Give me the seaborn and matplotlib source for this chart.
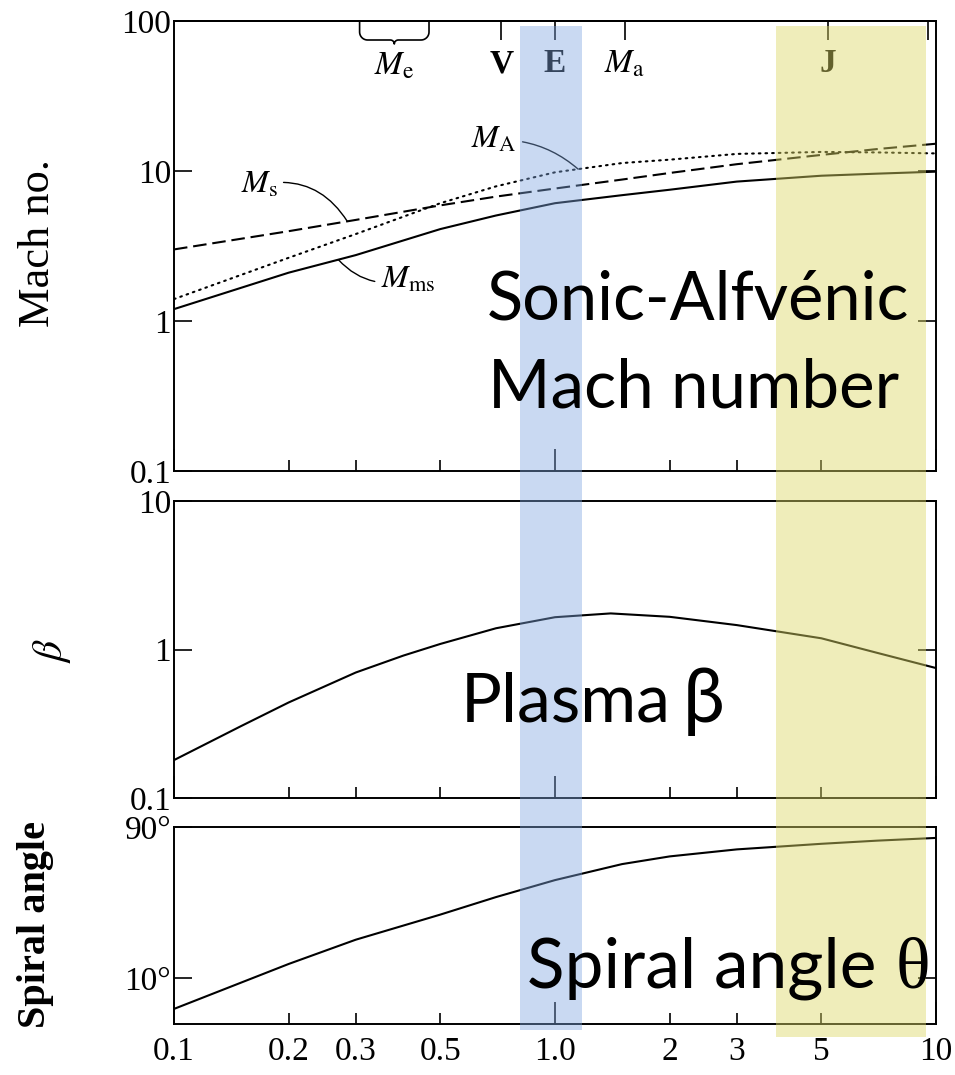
import numpy as np
import pandas as pd
import matplotlib
matplotlib.use("Agg")
import matplotlib.pyplot as plt
import matplotlib.transforms as mtransforms
from matplotlib.patches import Rectangle
from matplotlib.ticker import FixedLocator, FixedFormatter, NullFormatter, NullLocator
import seaborn as sns

# ---------------------------------------------------------------- data
# heliocentric distance (AU)
distance_au = [0.1, 0.2, 0.3, 0.5, 0.7, 1.0, 1.5, 2.0, 3.0, 5.0, 7.0, 10.0]
mach_ms = [1.2, 2.1, 2.75, 4.1, 5.05, 6.1, 6.9, 7.5, 8.5, 9.3, 9.6, 9.9]
mach_s = [3.0, 3.97, 4.72, 5.9, 6.75, 7.64, 8.77, 9.7, 11.1, 12.8, 14.0, 15.2]
mach_A = [1.4, 2.64, 3.8, 6.1, 7.9, 9.8, 11.3, 11.9, 13.0, 13.4, 13.3, 13.1]

beta_distance_au = [0.1, 0.15, 0.2, 0.3, 0.4, 0.5, 0.7, 1.0, 1.4, 2.0, 3.0, 5.0, 7.0, 10.0]
plasma_beta = [0.18, 0.305, 0.44, 0.70, 0.91, 1.09, 1.39, 1.65, 1.75, 1.66, 1.46, 1.19, 0.95, 0.75]

spiral_angle_deg = [6.4, 12.3, 17.5, 25.2, 32.5, 41.6, 52.5, 58.7, 65.0, 70.5, 73.8, 76.8]

# planetary orbits marked along the top of the Mach-number panel
planet_au = [0.723, 1.0, 1.524, 5.2, 9.54]
planet_labels = ["V", "E", r"$M_\mathrm{a}$", "J", ""]
mercury_au = (0.307, 0.467)

# shaded distance ranges
earth_band_au = (0.81, 1.18)
jupiter_band_au = (3.8, 9.4)

x_major = [0.1, 1.0, 10.0]
x_major_labels = ["0.1", "1.0", "10"]
x_minor = [0.2, 0.3, 0.5, 2.0, 3.0, 5.0]
x_minor_labels = ["0.2", "0.3", "0.5", "2", "3", "5"]

mach_ticks = [0.1, 1, 10, 100]
mach_tick_labels = ["0.1", "1", "10", "100"]
beta_ticks = [0.1, 1, 10]
beta_tick_labels = ["0.1", "1", "10"]
angle_ticks = [10, 90]
angle_tick_labels = ["10°", "90°"]

# ---------------------------------------------------------------- style
sns.set_theme(style="white")
SERIF = ["Liberation Serif", "DejaVu Serif"]
plt.rcParams.update({
    "font.family": SERIF,
    "mathtext.fontset": "stix",
    "axes.linewidth": 1.4,
    "axes.edgecolor": "black",
    "xtick.direction": "in",
    "ytick.direction": "in",
    "xtick.color": "black",
    "ytick.color": "black",
    "text.color": "black",
    "axes.labelcolor": "black",
})

W, H = 955, 1075
fig = plt.figure(figsize=(W / 100, H / 100), dpi=100)


def frame(left, top, right, bottom):
    return [left / W, 1 - bottom / H, (right - left) / W, (bottom - top) / H]


def fx(px):
    return px / W


def fy(py):
    return 1 - py / H


ax_m = fig.add_axes(frame(174, 21, 936, 471))
ax_b = fig.add_axes(frame(174, 501, 936, 798))
ax_s = fig.add_axes(frame(174, 827, 936, 1024))

line_kw = dict(color="black", linewidth=1.5)

mach_df = pd.DataFrame({"r": distance_au, "M_ms": mach_ms, "M_s": mach_s, "M_A": mach_A})
sns.lineplot(data=mach_df, x="r", y="M_ms", ax=ax_m, **line_kw)
sns.lineplot(data=mach_df, x="r", y="M_s", ax=ax_m, linestyle=(0, (6.5, 2.8)), **line_kw)
sns.lineplot(data=mach_df, x="r", y="M_A", ax=ax_m, linestyle=(0, (0.8, 2.4)),
             dash_capstyle="round", **line_kw)

beta_df = pd.DataFrame({"r": beta_distance_au, "beta": plasma_beta})
sns.lineplot(data=beta_df, x="r", y="beta", ax=ax_b, **line_kw)

angle_df = pd.DataFrame({"r": distance_au, "angle": spiral_angle_deg})
sns.lineplot(data=angle_df, x="r", y="angle", ax=ax_s, **line_kw)

panels = [
    (ax_m, (0.1, 100), mach_ticks, mach_tick_labels),
    (ax_b, (0.1, 10), beta_ticks, beta_tick_labels),
    (ax_s, (5.14, 90), angle_ticks, angle_tick_labels),
]
for ax, ylim, yt, ytl in panels:
    ax.set_xscale("log")
    ax.set_yscale("log")
    ax.set_xlim(0.1, 10)
    ax.set_ylim(*ylim)
    ax.set_xlabel("")
    ax.set_ylabel("")
    ax.xaxis.set_major_locator(FixedLocator(x_major))
    ax.xaxis.set_minor_locator(FixedLocator(x_minor))
    ax.xaxis.set_major_formatter(NullFormatter())
    ax.xaxis.set_minor_formatter(NullFormatter())
    ax.yaxis.set_major_locator(FixedLocator(yt))
    ax.yaxis.set_major_formatter(FixedFormatter(ytl))
    ax.yaxis.set_minor_locator(NullLocator())
    ax.tick_params(axis="x", which="major", length=16, width=1.2, bottom=True, top=False)
    ax.tick_params(axis="x", which="minor", length=8, width=1.2, bottom=True, top=False)
    ax.tick_params(axis="y", which="major", length=13, width=1.2, left=True, right=True,
                   pad=2, labelsize=24)
    for sp in ax.spines.values():
        sp.set_visible(True)
        sp.set_linewidth(1.4)
        sp.set_color("black")
    ax.set_facecolor("white")

ax_s.xaxis.set_major_formatter(FixedFormatter(x_major_labels))
ax_s.xaxis.set_minor_formatter(FixedFormatter(x_minor_labels))
ax_s.tick_params(axis="x", which="both", labelsize=24, pad=9)

# axis titles
ax_m.set_ylabel("Mach no.", fontsize=32, va="center")
ax_m.yaxis.set_label_coords((38 - 174) / 762, 1 - (243 - 21) / 450)
ax_b.set_ylabel(r"$\beta$", fontsize=30, va="center", rotation=90)
ax_b.yaxis.set_label_coords((52 - 174) / 762, 1 - (650 - 501) / 297)
ax_s.set_ylabel("Spiral angle", fontsize=29, fontweight="bold", va="center")
ax_s.yaxis.set_label_coords((36 - 174) / 762, 1 - (925 - 827) / 197)

# planet positions: inward ticks on the top edge with labels underneath
top = ax_m.secondary_xaxis("top")
top.set_xticks(planet_au)
top.set_xticklabels([])
top.xaxis.set_minor_locator(NullLocator())
top.tick_params(axis="x", which="major", direction="in", length=14, width=1.2)
top.spines["top"].set_linewidth(1.4)

blend_m = mtransforms.blended_transform_factory(ax_m.transData, ax_m.transAxes)
for r, lab in zip(planet_au, planet_labels):
    if not lab:
        continue
    weight = "normal" if lab.startswith("$") else "bold"
    ax_m.text(r, 1 - (64 - 21) / 450, lab, transform=blend_m, ha="center", va="center",
              fontsize=24, fontweight=weight)

# Mercury: curly brace spanning perihelion to aphelion
lo, hi = np.log10(mercury_au[0]), np.log10(mercury_au[1])
span_px = (hi - lo) * 381.0
mid_px = span_px / 2
t = np.linspace(0, np.pi / 2, 12)
half_x = np.concatenate([[0, 0], 8 - 8 * np.cos(t), [mid_px - 4], mid_px - 4 + 4 * np.sin(t)])
half_y = np.concatenate([[0, 11], 11 + 8 * np.sin(t), [19], 19 + 4 * (1 - np.cos(t))])
brace_x = np.concatenate([half_x, (span_px - half_x)[::-1]])
brace_y = np.concatenate([half_y, half_y[::-1]])
ax_m.plot(10 ** (lo + brace_x / 381.0), 1 - brace_y / 450, transform=blend_m,
          color="black", lw=1.2, clip_on=False, solid_capstyle="butt")
ax_m.text(10 ** ((lo + hi) / 2), 1 - (66 - 21) / 450, r"$M_\mathrm{e}$", transform=blend_m,
          ha="center", va="center", fontsize=24)


def on_curve(r, xs, ys):
    return 10 ** np.interp(np.log10(r), np.log10(xs), np.log10(ys))


leader = dict(arrowstyle="-", lw=1.0, color="black", shrinkA=2, shrinkB=0)
r_s = 0.285
ax_m.annotate(r"$M_\mathrm{s}$", xy=(r_s, on_curve(r_s, distance_au, mach_s)),
              xytext=((259 - 174) / 762, 1 - (185 - 21) / 450), textcoords="axes fraction",
              ha="center", va="center", fontsize=23,
              arrowprops=dict(connectionstyle="arc3,rad=-0.35", **leader))
r_ms = 0.27
ax_m.annotate(r"$M_\mathrm{ms}$", xy=(r_ms, on_curve(r_ms, distance_au, mach_ms)),
              xytext=((408 - 174) / 762, 1 - (280 - 21) / 450), textcoords="axes fraction",
              ha="center", va="center", fontsize=23,
              arrowprops=dict(connectionstyle="arc3,rad=-0.3", **leader))
r_A = 1.15
ax_m.annotate(r"$M_\mathrm{A}$", xy=(r_A, on_curve(r_A, distance_au, mach_A)),
              xytext=((494 - 174) / 762, 1 - (140 - 21) / 450), textcoords="axes fraction",
              ha="center", va="center", fontsize=23,
              arrowprops=dict(connectionstyle="arc3,rad=-0.2", **leader))

# translucent distance bands running through all three panels
band_tr = mtransforms.blended_transform_factory(ax_s.transData, fig.transFigure)
for (x0, x1), color, alpha, bottom_px in [
    (earth_band_au, "#7FA6E0", 0.42, 1030),
    (jupiter_band_au, "#DDD866", 0.45, 1037),
]:
    rect = Rectangle((x0, fy(bottom_px)), x1 - x0, fy(26) - fy(bottom_px),
                     transform=band_tr, facecolor=color, alpha=alpha,
                     edgecolor="none", zorder=2)
    fig.add_artist(rect)

# panel captions
cap_font = ["Lato", "Open Sans", "DejaVu Sans"]
fig.text(fx(487), fy(320), "Sonic-Alfvénic", family=cap_font, fontsize=48,
         ha="left", va="baseline", zorder=5)
fig.text(fx(488), fy(408), "Mach number", family=cap_font, fontsize=48.5,
         ha="left", va="baseline", zorder=5)
fig.text(fx(461), fy(722), "Plasma", family=cap_font, fontsize=49,
         ha="left", va="baseline", zorder=5)
fig.text(fx(683), fy(722), "β", family=cap_font, fontsize=54,
         ha="left", va="baseline", zorder=5)
fig.text(fx(527), fy(987), "Spiral angle", family=cap_font, fontsize=50,
         ha="left", va="baseline", zorder=5)
fig.text(fx(896), fy(987), "θ", family=SERIF, fontsize=52,
         ha="left", va="baseline", zorder=5)

fig.savefig("out.png", dpi=100, facecolor="white")
